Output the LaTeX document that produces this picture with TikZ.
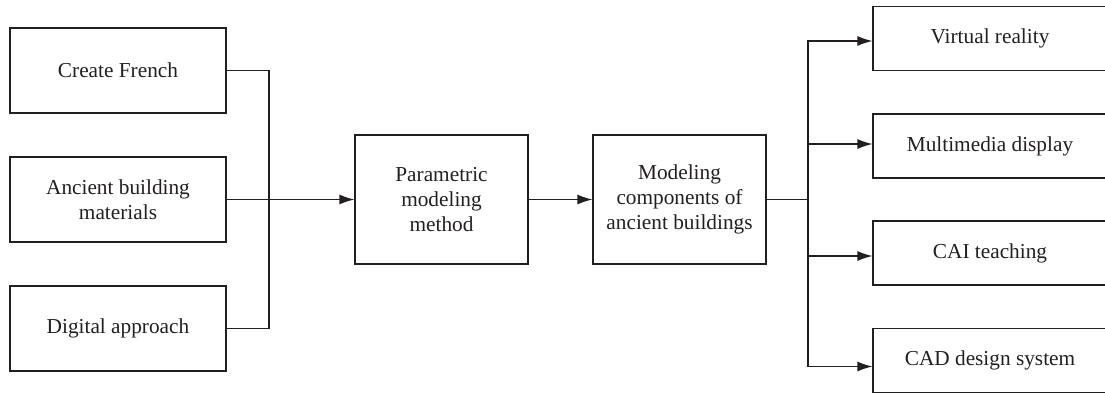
\documentclass[tikz,border=0pt]{standalone}
\usepackage{fontspec}
\setmainfont{Liberation Serif}
\usetikzlibrary{arrows.meta}
\definecolor{ink}{HTML}{231F20}
\begin{document}
\begin{tikzpicture}[x=1pt,y=-1pt,
  box/.style={draw=ink,line width=1.2pt,align=center,inner sep=0pt,
    font=\fontsize{21.3}{25}\selectfont,text=ink},
  lbox/.style={box,minimum width=216pt,minimum height=85pt},
  mbox/.style={box,minimum width=173pt,minimum height=129pt},
  rbox/.style={box,minimum width=234pt,minimum height=64pt},
  conn/.style={draw=ink,line width=1.2pt},
  arr/.style={conn,-{Latex[length=15pt,width=10pt]}}]
\useasboundingbox (0,0) rectangle (1105,394);
\node[lbox] (b1) at (118,70.5) {Create French};
\node[lbox] (b2) at (118,199.5) {Ancient building\\materials};
\node[lbox] (b3) at (118,328.5) {Digital approach};
\node[mbox] (pm) at (441.5,199.5) {Parametric\\modeling\\method};
\node[mbox] (mc) at (679.5,199.5) {Modeling\\components of\\ancient buildings};
\node[rbox] (vr) at (990,38.5) {Virtual reality};
\node[rbox] (md) at (990,146) {Multimedia display};
\node[rbox] (cai) at (990,253) {CAI teaching};
\node[rbox] (cad) at (990,360.5) {CAD design system};
\coordinate (jl) at (269,199.5);
\coordinate (jr) at (808,199.5);
\draw[conn] (b1.east) -| (jl) |- (b3.east);
\draw[arr] (b2.east) -- (pm.west);
\draw[arr] (pm.east) -- (mc.west);
\draw[conn] (mc.east) -- (jr);
\draw[arr] (jr) |- ([yshift=-2.5pt]vr.west);
\draw[arr] (jr) |- ([yshift=2pt]md.west);
\draw[arr] (jr) |- ([yshift=-3pt]cai.west);
\draw[arr] (jr) |- ([yshift=-6pt]cad.west);
\end{tikzpicture}
\end{document}
